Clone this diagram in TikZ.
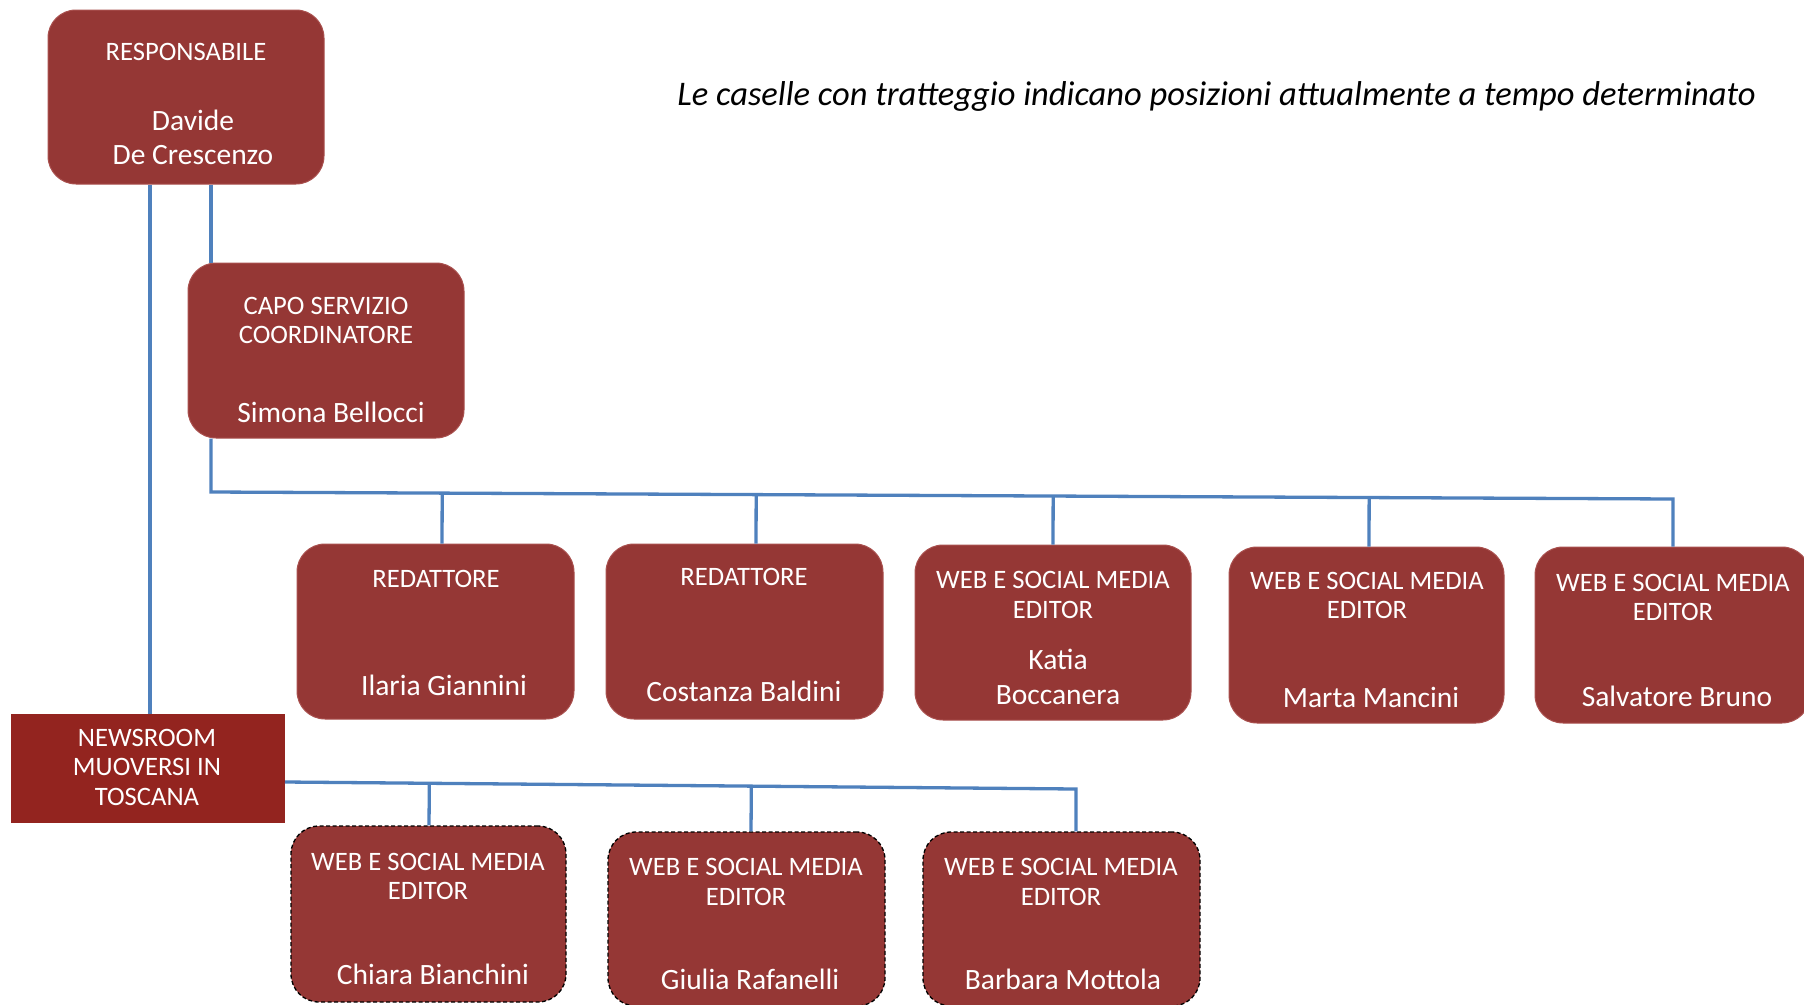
\documentclass[tikz,border=0pt]{standalone}
\usepackage{fontspec}
\setmainfont{Carlito}
\usetikzlibrary{calc}
\definecolor{boxred}{HTML}{953735}
\definecolor{boxedge}{HTML}{A9504E}
\definecolor{newsred}{HTML}{93241F}
\definecolor{linkblue}{HTML}{4F81BD}
\tikzset{
  card/.style={rectangle, rounded corners=28pt, fill=boxred, draw=boxedge, line width=1pt, inner sep=0pt},
  tempcard/.style={card, draw=black, line width=1.3pt, dash pattern=on 4pt off 2.5pt},
  newsbox/.style={rectangle, fill=newsred, inner sep=0pt},
  hd/.style={anchor=base, inner sep=0pt, text=white, font=\fontsize{26.6}{29}\selectfont},
  nm/.style={anchor=base, inner sep=0pt, text=white, font=\fontsize{29.5}{34}\selectfont},
  conn/.style={draw=linkblue, line width=3.3pt},
}
\begin{document}
\begin{tikzpicture}[x=1pt, y=-1pt]
\useasboundingbox (0,0) rectangle (1804,1004);
\fill[white] (0,0) rectangle (1804,1004);
\clip (0,0) rectangle (1804,1004);

% title
\node[anchor=base, inner sep=0pt, font=\itshape\fontsize{34.5}{40}\selectfont] (title) at (1216.5,105)
  {Le caselle con tratteggio indicano posizioni attualmente a tempo determinato};

% boxes
\node[card, minimum width=276pt, minimum height=174pt] (resp) at (186,97) {};
\node[card, minimum width=276pt, minimum height=175pt] (capo) at (326,350.5) {};
\node[newsbox, minimum width=274pt, minimum height=109pt] (news) at (148,768.5) {};
\node[card, minimum width=277pt, minimum height=175pt] (ilaria) at (435.5,631.5) {};
\node[card, minimum width=277pt, minimum height=175pt] (costanza) at (744.5,631.5) {};
\node[card, minimum width=276pt, minimum height=175pt] (katia) at (1053,632.5) {};
\node[card, minimum width=275pt, minimum height=176pt] (marta) at (1366.5,635) {};
\node[card, minimum width=275pt, minimum height=176pt] (salv) at (1672.5,635) {};
\node[tempcard, minimum width=275pt, minimum height=176pt] (chiara) at (428.5,914) {};
\node[tempcard, minimum width=277pt, minimum height=174pt] (giulia) at (746.5,919) {};
\node[tempcard, minimum width=277pt, minimum height=174pt] (barbara) at (1061.5,919) {};

% texts
\node[hd] (resp-h) at (186,60) {RESPONSABILE};
\node[nm] (resp-n1) at (193,130) {Davide};
\node[nm] (resp-n2) at (193,164) {De Crescenzo};

\node[hd] (capo-h1) at (326,314) {CAPO SERVIZIO};
\node[hd] (capo-h2) at (326,343) {COORDINATORE};
\node[nm] (capo-n) at (331,422) {Simona Bellocci};

\node[hd] (news-h1) at (147,746) {NEWSROOM};
\node[hd] (news-h2) at (147,775) {MUOVERSI IN};
\node[hd] (news-h3) at (147,805) {TOSCANA};

\node[hd] (ilaria-h) at (436,587) {REDATTORE};
\node[nm] (ilaria-n) at (444,695) {Ilaria Giannini};

\node[hd] (costanza-h) at (744,585) {REDATTORE};
\node[nm] (costanza-n) at (744,701) {Costanza Baldini};

\node[hd] (katia-h1) at (1053,588) {WEB E SOCIAL MEDIA};
\node[hd] (katia-h2) at (1053,618) {EDITOR};
\node[nm] (katia-n1) at (1058,669) {Katia};
\node[nm] (katia-n2) at (1058,704) {Boccanera};

\node[hd] (marta-h1) at (1367,589) {WEB E SOCIAL MEDIA};
\node[hd] (marta-h2) at (1367,618) {EDITOR};
\node[nm] (marta-n) at (1371,707) {Marta Mancini};

\node[hd] (salv-h1) at (1673,591) {WEB E SOCIAL MEDIA};
\node[hd] (salv-h2) at (1673,620) {EDITOR};
\node[nm] (salv-n) at (1677,706) {Salvatore Bruno};

\node[hd] (chiara-h1) at (428,870) {WEB E SOCIAL MEDIA};
\node[hd] (chiara-h2) at (428,899) {EDITOR};
\node[nm] (chiara-n) at (433,984) {Chiara Bianchini};

\node[hd] (giulia-h1) at (746,875) {WEB E SOCIAL MEDIA};
\node[hd] (giulia-h2) at (746,905) {EDITOR};
\node[nm] (giulia-n) at (750,989) {Giulia Rafanelli};

\node[hd] (barbara-h1) at (1061,875) {WEB E SOCIAL MEDIA};
\node[hd] (barbara-h2) at (1061,905) {EDITOR};
\node[nm] (barbara-n) at (1063,989) {Barbara Mottola};

% connectors
\draw[conn] ([xshift=-36pt]resp.south) -- ([xshift=2pt]news.north);
\draw[conn] ([xshift=25pt]resp.south) -- ([xshift=-115pt]capo.north);

\coordinate (busL) at (211,492);
\coordinate (busR) at (1673,499);
\draw[conn] ([xshift=-115pt]capo.south) -- (busL) -- (busR) -- (salv.north -| busR);
\coordinate (ilariaT) at ([xshift=6.5pt]ilaria.north);
\coordinate (costanzaT) at ([xshift=11.5pt]costanza.north);
\coordinate (katiaT) at (katia.north);
\coordinate (martaT) at ([xshift=2.5pt]marta.north);
\draw[conn] ($(busL)!(ilariaT)!(busR)$) -- (ilariaT);
\draw[conn] ($(busL)!(costanzaT)!(busR)$) -- (costanzaT);
\draw[conn] ($(busL)!(katiaT)!(busR)$) -- (katiaT);
\draw[conn] ($(busL)!(martaT)!(busR)$) -- (martaT);

\coordinate (nbL) at (285,782);
\coordinate (nbR) at (1076,789);
\draw[conn] (nbL) -- (nbR) -- (barbara.north -| nbR);
\coordinate (chiaraT) at ([xshift=0.5pt]chiara.north);
\coordinate (giuliaT) at ([xshift=4.5pt]giulia.north);
\draw[conn] ($(nbL)!(chiaraT)!(nbR)$) -- (chiaraT);
\draw[conn] ($(nbL)!(giuliaT)!(nbR)$) -- (giuliaT);
\end{tikzpicture}
\end{document}
